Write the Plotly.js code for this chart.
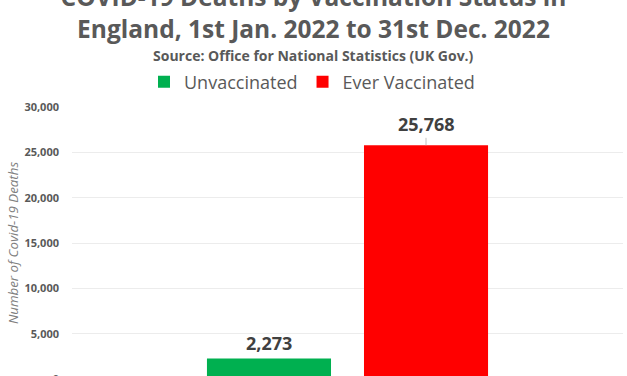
<!DOCTYPE html>
<html>
<head>
<meta charset="utf-8">
<script src="https://cdn.plot.ly/plotly-3.0.1.min.js"></script>
<style>
  html, body { margin: 0; padding: 0; width: 627px; height: 376px; overflow: hidden; background: #ffffff; }
  #chart { position: absolute; left: 0; top: -30px; width: 627px; height: 430px; }
</style>
</head>
<body>
<div id="chart"></div>
<script>
// ---- data ----
const category = ["1st Jan. 2022 to 31st Dec. 2022"];
const seriesNames = ["Unvaccinated", "Ever Vaccinated"];
const unvaccinatedDeaths = [2273];
const everVaccinatedDeaths = [25768];
const yTickValues = [0, 5000, 10000, 15000, 20000, 25000, 30000];

// ---- styles ----
const colors = ["#00B050", "#FF0000"];
const FONT = "Open Sans, Noto Sans, sans-serif";
const GREY = "#595959";

const series = [unvaccinatedDeaths, everVaccinatedDeaths];

const traces = series.map((vals, i) => ({
  type: "bar",
  name: seriesNames[i],
  x: category,
  y: vals,
  marker: { color: colors[i], line: { width: 0 } },
  hoverinfo: "name+y"
}));

const labelFont = { family: FONT, size: 18, color: "#404040", weight: "bold" };

const annotations = [
  {
    x: category[0],
    y: unvaccinatedDeaths[0],
    xref: "x",
    yref: "y",
    xshift: -78.5,
    yshift: 1,
    yanchor: "bottom",
    showarrow: false,
    text: unvaccinatedDeaths[0].toLocaleString("en-GB"),
    font: labelFont
  },
  {
    x: category[0],
    y: everVaccinatedDeaths[0],
    xref: "x",
    yref: "y",
    xshift: 78.5,
    showarrow: true,
    arrowhead: 0,
    arrowwidth: 0.8,
    arrowcolor: "#b0b0b0",
    standoff: 0,
    ax: 0,
    ay: -21,
    text: everVaccinatedDeaths[0].toLocaleString("en-GB"),
    font: labelFont
  },
  {
    text: "Source: Office for National Statistics (UK Gov.)",
    xref: "paper",
    yref: "paper",
    x: (313 - 72) / 551,
    xanchor: "center",
    y: (409 - 85) / 272,
    yanchor: "middle",
    showarrow: false,
    font: { family: FONT, size: 14, color: GREY, weight: "bold" }
  }
];

const layout = {
  width: 627,
  height: 430,
  margin: { l: 72, r: 4, t: 137, b: 21 },
  paper_bgcolor: "#ffffff",
  plot_bgcolor: "#ffffff",
  font: { family: FONT, color: GREY },
  title: {
    text: "COVID-19 Deaths by Vaccination Status in<br>England, 1st Jan. 2022 to 31st Dec. 2022",
    font: { family: FONT, size: 24.5, color: GREY, weight: "bold" },
    x: 0.5,
    xref: "container",
    xanchor: "center",
    y: 1 - 36 / 430,
    yref: "container",
    yanchor: "top"
  },
  barmode: "group",
  bargap: 0.43,
  bargroupgap: 0.21,
  showlegend: true,
  legend: {
    orientation: "h",
    xref: "container",
    yref: "container",
    x: 312 / 627,
    xanchor: "center",
    y: 1 - 112 / 430,
    yanchor: "middle",
    font: { family: FONT, size: 18, color: GREY },
    bgcolor: "rgba(0,0,0,0)"
  },
  xaxis: {
    type: "category",
    showticklabels: false,
    showgrid: false,
    zeroline: false,
    showline: false,
    ticks: ""
  },
  yaxis: {
    range: [0, 30000],
    tickvals: yTickValues,
    ticktext: yTickValues.map(v => v.toLocaleString("en-GB")),
    tickfont: { family: FONT, size: 11, color: GREY, weight: "bold" },
    ticks: "",
    ticklabelstandoff: 12,
    showgrid: true,
    gridcolor: "#ececec",
    gridwidth: 1,
    zeroline: false,
    showline: false,
    automargin: false,
    title: {
      text: "Number of Covid-19 Deaths",
      font: { family: FONT, size: 13.3, color: "#7f7f7f", style: "italic" },
      standoff: 2
    }
  },
  annotations: annotations
};

Plotly.newPlot("chart", traces, layout, { displayModeBar: false, staticPlot: true });
</script>
</body>
</html>
